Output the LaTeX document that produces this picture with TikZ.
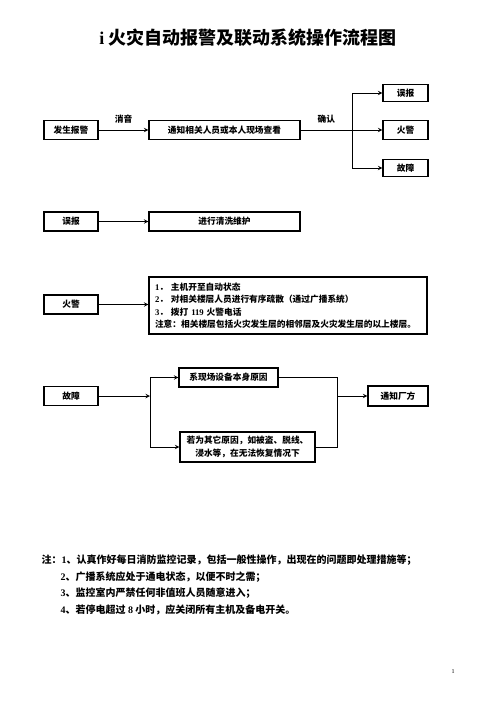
\documentclass[tikz,border=0pt]{standalone}
\usepackage{fontspec}
\setmainfont{Noto Sans CJK SC}
\newfontfamily\latinfont{Liberation Serif}
\newcommand{\latn}[1]{{\latinfont #1}}
\usetikzlibrary{arrows}

\begin{document}
\begin{tikzpicture}[x=1pt,y=-1pt,thick,
	box/.style={draw,line width=1.2pt,minimum height=19pt,inner sep=1pt,font=\fontsize{8.7}{11}\selectfont\bfseries},
	arr/.style={-stealth,line width=1pt},
	lbl/.style={font=\fontsize{8.7}{11}\selectfont\bfseries},
	note/.style={anchor=west,font=\fontsize{10}{12}\selectfont\bfseries}]
	\useasboundingbox (0,0) rectangle (496,702);
	
	\node[font=\fontsize{18}{20}\selectfont\bfseries] (title) at (248,38) {\latn{i} 火灾自动报警及联动系统操作流程图};
	
	% report and check
	\node[box,minimum width=54pt] (alarm) at (71,130) {发生报警};
	\node[box,minimum width=151pt] (notify) at (224.5,130) {通知相关人员或本人现场查看};
	\node[box,minimum width=45pt,minimum height=17pt] (fp1) at (405.5,93) {误报};
	\node[box,minimum width=45pt] (fire1) at (405.5,130) {火警};
	\node[box,minimum width=45pt,minimum height=17pt] (fault1) at (405.5,168) {故障};
	\coordinate (split) at (352,130);
	\draw[arr] (alarm) -- node[lbl,above=3pt] {消音} (notify);
	\draw[line width=1pt] (notify) -- node[lbl,above=3pt] {确认} (split);
	\draw[arr] (split) -- (fire1);
	\draw[arr] (split) |- (fp1);
	\draw[arr] (split) |- (fault1);
	
	% false alarm
	\node[box,minimum width=54pt] (fp2) at (71,221.5) {误报};
	\node[box,minimum width=151pt] (clean) at (224.5,221.5) {进行清洗维护};
	\draw[arr] (fp2) -- (clean);
	
	% fire
	\node[box,minimum width=54pt] (fire3) at (71,304.5) {火警};
	\node[box,minimum width=278pt,minimum height=57pt,text width=266pt,inner sep=5pt,align=left,font=\fontsize{8.7}{12.5}\selectfont\bfseries] (steps) at (288,305.5)
	{\latn{1}．\ 主机开至自动状态\\
	 \latn{2}．\ 对相关楼层人员进行有序疏散（通过广播系统）\\
	 \latn{3}．\ 拨打 \latn{119} 火警电话\\
	 注意：相关楼层包括火灾发生层的相邻层及火灾发生层的以上楼层。};
	\draw[arr] (fire3) -- (steps.west |- fire3);
	
	% fault
	\node[box,minimum width=54pt] (fault4) at (71,396) {故障};
	\node[box,minimum width=99pt] (selfcause) at (228.5,377.5) {系现场设备本身原因};
	\node[box,minimum width=135pt,minimum height=30pt,align=center,font=\fontsize{8.7}{13}\selectfont\bfseries] (other) at (247.5,447)
	{若为其它原因，如被盗、脱线、\\浸水等，在无法恢复情况下};
	\node[box,minimum width=60pt,minimum height=20pt] (factory) at (398,396) {通知厂方};
	\coordinate (fork) at (150,396);
	\coordinate (join) at (337,396);
	\draw[arr] (fault4) -- (fork);
	\draw[arr] (fork) |- (selfcause);
	\draw[arr] (fork) |- (other);
	\draw[line width=1pt] (selfcause) -| (join);
	\draw[line width=1pt] (other) -| (join);
	\draw[arr] (join) -- (factory);
	
	% notes
	\node[note] (note1) at (38,560) {注：\latn{1}、认真作好每日消防监控记录，包括一般性操作，出现在的问题即处理措施等；};
	\node[note] (note2) at (57,577) {\latn{2}、广播系统应处于通电状态，以便不时之需；};
	\node[note] (note3) at (57,593) {\latn{3}、监控室内严禁任何非值班人员随意进入；};
	\node[note] (note4) at (57,610) {\latn{4}、若停电超过 \latn{8} 小时，应关闭所有主机及备电开关。};
	
	\node[font=\fontsize{6}{7}\selectfont] (pageno) at (453,672) {\latn{1}};
\end{tikzpicture}
\end{document}
